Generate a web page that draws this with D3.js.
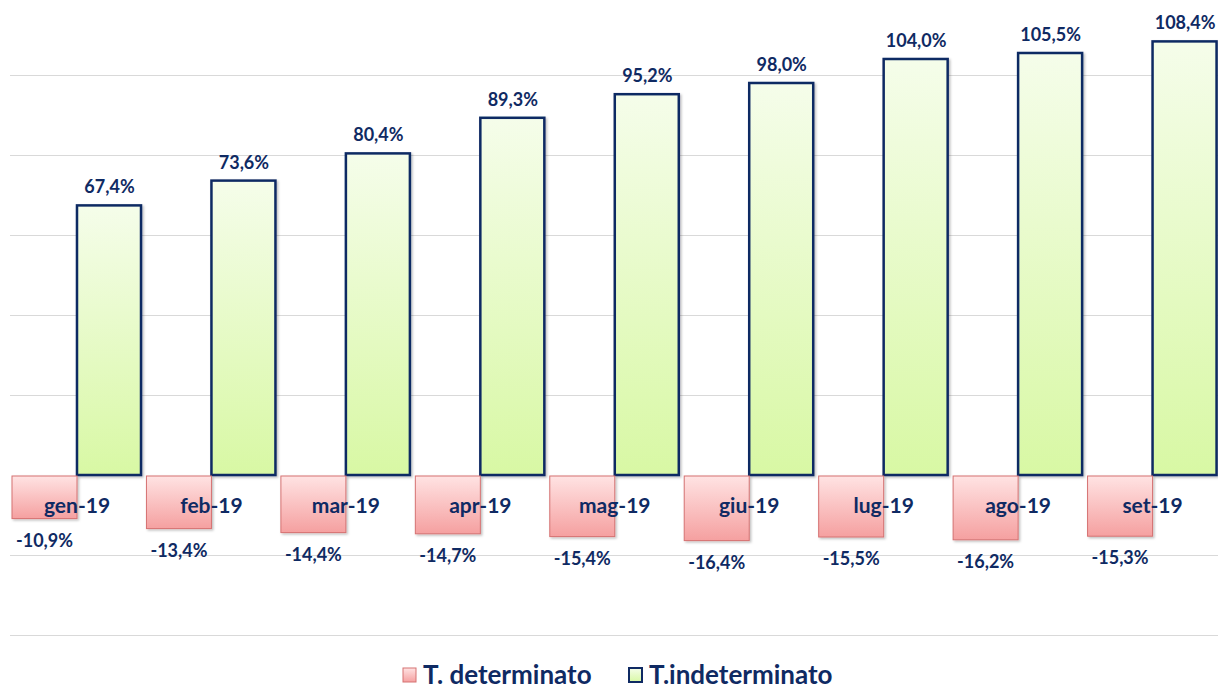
<!DOCTYPE html>
<html>
<head>
<meta charset="utf-8">
<script src="https://d3js.org/d3.v7.min.js"></script>
<style>
  body { margin: 0; background: #fff; }
  svg { display: block; font-family: Lato, "Open Sans", sans-serif; }
</style>
</head>
<body>
<div id="chart"></div>
<script>
var months = ["gen-19", "feb-19", "mar-19", "apr-19", "mag-19", "giu-19", "lug-19", "ago-19", "set-19"];
var determinato = [-10.9, -13.4, -14.4, -14.7, -15.4, -16.4, -15.5, -16.2, -15.3];
var indeterminato = [67.4, 73.6, 80.4, 89.3, 95.2, 98.0, 104.0, 105.5, 108.4];
var gridTicks = [-40, -20, 20, 40, 60, 80, 100];
var seriesNames = ["T. determinato", "T.indeterminato"];

var width = 1218, height = 689;
var navy = "#0f2a63";

var svg = d3.select("#chart").append("svg")
  .attr("width", width)
  .attr("height", height);

var defs = svg.append("defs");
var gGreen = defs.append("linearGradient").attr("id", "gGreen")
  .attr("x1", 0).attr("y1", 0).attr("x2", 0).attr("y2", 1);
gGreen.append("stop").attr("offset", "0%").attr("stop-color", "#f5fdea");
gGreen.append("stop").attr("offset", "100%").attr("stop-color", "#d8f8a4");
var gRed = defs.append("linearGradient").attr("id", "gRed")
  .attr("x1", 0).attr("y1", 0).attr("x2", 0).attr("y2", 1);
gRed.append("stop").attr("offset", "0%").attr("stop-color", "#ffe3e3");
gRed.append("stop").attr("offset", "100%").attr("stop-color", "#f5a0a0");
var shadow = defs.append("filter").attr("id", "shadow")
  .attr("x", "-10%").attr("y", "-10%").attr("width", "130%").attr("height", "130%");
shadow.append("feDropShadow").attr("dx", 1.5).attr("dy", 1.5)
  .attr("stdDeviation", 1).attr("flood-color", "#000").attr("flood-opacity", 0.25);

// 4px per percent, zero at y=475
var y = d3.scaleLinear().domain([-40, 100]).range([635, 75]);

var x = d3.scaleBand().domain(months).range([10, 1220]);
var barW = 65;

var fmt = function(v) { return v.toFixed(1).replace(".", ",") + "%"; };

// grid (no zero line)
svg.append("g").selectAll("line")
  .data(gridTicks)
  .enter().append("line")
  .attr("x1", 10).attr("x2", width)
  .attr("y1", function(d) { return Math.round(y(d)) + 0.5; })
  .attr("y2", function(d) { return Math.round(y(d)) + 0.5; })
  .attr("stroke", "#d9d9d9")
  .attr("stroke-width", 1.2);

var cat = svg.append("g").selectAll("g")
  .data(months)
  .enter().append("g");

// green bars
cat.append("rect")
  .attr("x", function(d) { return x(d) + 2 + barW; })
  .attr("y", function(d, i) { return y(indeterminato[i]); })
  .attr("width", barW - 1)
  .attr("height", function(d, i) { return y(0) - y(indeterminato[i]); })
  .attr("fill", "url(#gGreen)")
  .attr("stroke", navy)
  .attr("stroke-width", 2.5)
  .attr("filter", "url(#shadow)");

// red bars
cat.append("rect")
  .attr("x", function(d) { return x(d) + 2; })
  .attr("y", y(0) + 1)
  .attr("width", barW)
  .attr("height", function(d, i) { return y(determinato[i]) - y(0) - 1; })
  .attr("fill", "url(#gRed)")
  .attr("stroke", "#d57272")
  .attr("stroke-width", 1)
  .attr("filter", "url(#shadow)");

// value labels
cat.append("text")
  .attr("x", function(d) { return x(d) + 2 + barW * 1.5; })
  .attr("y", function(d, i) { return y(indeterminato[i]) - 12; })
  .attr("text-anchor", "middle")
  .attr("font-size", 18).attr("font-weight", 700)
  .attr("fill", navy)
  .text(function(d, i) { return fmt(indeterminato[i]); });

cat.append("text")
  .attr("x", function(d) { return x(d) + 2 + barW / 2; })
  .attr("y", function(d, i) { return y(determinato[i]) + 28; })
  .attr("text-anchor", "middle")
  .attr("font-size", 18).attr("font-weight", 700)
  .attr("fill", navy)
  .text(function(d, i) { return fmt(determinato[i]); });

// category labels
cat.append("text")
  .attr("x", function(d) { return x(d) + 2 + barW; })
  .attr("y", 513)
  .attr("text-anchor", "middle")
  .attr("font-size", 21).attr("font-weight", 700)
  .attr("fill", navy)
  .text(function(d) { return d; });

// legend
var legend = svg.append("g");
var leg = [
  { name: seriesNames[0], x: 403, fill: "url(#gRed)", stroke: "#d57272", sw: 1 },
  { name: seriesNames[1], x: 629, fill: "url(#gGreen)", stroke: navy, sw: 2 }
];
var li = legend.selectAll("g").data(leg).enter().append("g")
  .attr("transform", function(d) { return "translate(" + d.x + ",0)"; });
li.append("rect")
  .attr("x", 0).attr("y", 668).attr("width", 13).attr("height", 14)
  .attr("fill", function(d) { return d.fill; })
  .attr("stroke", function(d) { return d.stroke; })
  .attr("stroke-width", function(d) { return d.sw; });
li.append("text")
  .attr("x", 20).attr("y", 684)
  .attr("font-size", 26).attr("font-weight", 700)
  .attr("fill", navy)
  .text(function(d) { return d.name; });
</script>
</body>
</html>
